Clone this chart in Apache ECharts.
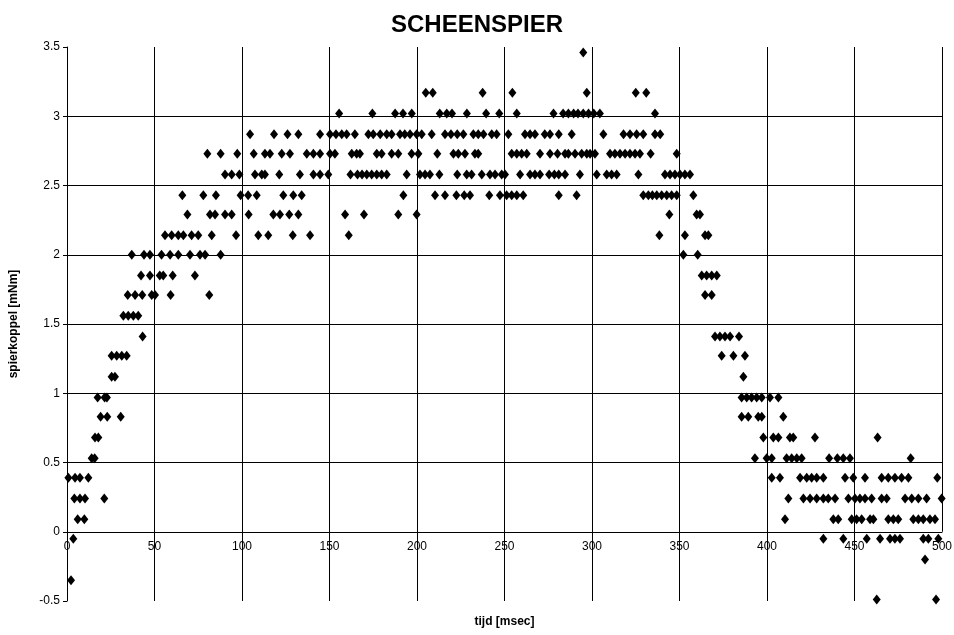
<!DOCTYPE html>
<html>
<head>
<meta charset="utf-8">
<script src="https://cdn.jsdelivr.net/npm/echarts@6/dist/echarts.min.js"></script>
<style>
  html, body { margin: 0; padding: 0; background: #fff; }
  #chart { width: 954px; height: 635px; }
</style>
</head>
<body>
<div id="chart"></div>
<script>
// gemeten spierkoppel per niveau (mNm), met de tijdstippen (msec) waarop het voorkomt
const t346 = [295];
const t317 = [205, 209, 237.5, 254.5, 297, 325, 331];
const t302 = [155.5, 174.5, 187.5, 192, 197, 213, 217, 220, 228.5, 239.5, 247, 257, 278, 283.5, 286.5, 289.5, 292, 295, 298, 301, 304.5, 336];
const t287 = [104.6, 118.3, 126, 132.2, 144.6, 150.3, 153.7, 157, 159.8, 164.5, 172.2, 175, 179, 182.7, 185.5, 190.3, 193, 196, 199.8, 202.7, 208.4, 216, 219.4, 223, 226.5, 232.2, 235, 238, 242.7, 245.5, 252.2, 261.7, 264.6, 267.4, 273, 276, 281, 288.4, 306.5, 318, 321.7, 325.5, 329.3, 336, 339];
const t273 = [80.2, 87.8, 97.3, 106.7, 113.1, 116, 122.7, 127.4, 137, 140.8, 144.6, 150.3, 153.1, 162.7, 165.5, 167.4, 177, 179.8, 185.5, 189.3, 196.9, 200.8, 211.6, 220.8, 223.6, 227.4, 233.1, 235, 254.1, 257, 259.8, 262.7, 270.3, 276, 280.3, 284.6, 286.5, 290.3, 294.1, 297, 298.9, 301.7, 310.3, 313.1, 316, 318.9, 321.7, 324.6, 327.4, 333.5, 348.4];
const t258 = [90.3, 94.1, 98.5, 107.4, 111.3, 113.1, 121.3, 133.1, 140.8, 144.6, 149.3, 162, 166, 168.6, 171.3, 174.1, 177, 179.8, 182.7, 194.1, 201.7, 204.6, 207.4, 212.8, 223, 228.4, 231.2, 237, 241.7, 244.6, 248.4, 250.3, 258.9, 264.6, 267.4, 270.3, 275.5, 278.5, 281, 284.6, 293.1, 302.7, 308.4, 311.2, 314.1, 326.5, 341.7, 344.6, 347.4, 350.3, 353.1, 356];
const t243 = [65.9, 77.9, 85.1, 99.2, 103.5, 108.4, 123.6, 129.3, 134.1, 192.2, 210.3, 216, 222.5, 227, 230.3, 241.3, 247.4, 251.2, 254.1, 257, 260.7, 281, 291.2, 329.3, 332.2, 334.5, 337, 339.8, 342.7, 345.5, 348.4, 357.9];
const t229 = [68.8, 81.7, 84.6, 90.3, 94.1, 103.8, 117.9, 121.7, 127, 132.2, 158.9, 169.7, 189.3, 199.8, 344.2, 359.8, 361.7];
const t214 = [56, 59.8, 63.6, 66.5, 71.2, 75, 82.7, 96.6, 109.3, 115, 129, 138.9, 161, 338.5, 353.1, 364.6, 366.5];
const t200 = [37, 44, 47.4, 54, 58.9, 63.6, 70.3, 76, 78.9, 87.8, 352.2, 360.4];
const t185 = [42.3, 47.4, 53, 55, 60.4, 73.1, 362.7, 365.5, 368.4, 371.3];
const t171 = [34.7, 38.9, 43, 48.4, 50.3, 59.2, 81.3, 364.6, 368.4];
const t156 = [32.2, 35, 37.9, 40.7];
const t141 = [43.2, 370.3, 373.1, 376, 378.9, 384];
const t127 = [25.5, 28.4, 31.3, 34.1, 374.1, 380.8, 387.4];
const t112 = [25.5, 27.4, 386.5];
const t097 = [17.5, 21.5, 22.8, 385.5, 388.4, 391.2, 394.1, 397, 401.7, 406.5];
const t083 = [19.2, 23, 30.7, 385.5, 389.3, 395, 397, 409.3];
const t068 = [16, 17.9, 397.9, 403.6, 406.5, 413.1, 415, 427.4, 463.2];
const t053 = [14.1, 15.8, 393.1, 399.8, 402.7, 411.2, 414.1, 417, 419.8, 435.5, 440.2, 443.6, 447.4, 482.1];
const t039 = [0.8, 4.6, 7.4, 12.2, 402.7, 407.4, 418.9, 422.7, 425.5, 428.4, 432.2, 444.6, 449.3, 456, 465.5, 469.3, 473.1, 476.9, 480.8, 497.3];
const t024 = [4.2, 7.4, 10.3, 21.3, 412.2, 420.8, 424.6, 428.4, 432.2, 435, 438.9, 446.5, 450.3, 453.1, 456, 459.8, 465.5, 468.4, 478.9, 482.7, 486.5, 491.2, 499.8];
const t009 = [6.1, 9.9, 410.3, 437.9, 440.7, 448.4, 451.2, 454.1, 458.9, 460.8, 469.3, 472.2, 475, 483.6, 486.5, 489.3, 493.1, 496];
const tm005 = [3.6, 432.2, 443.6, 457, 464.6, 470.3, 473.1, 476, 489.3, 492.2, 497.9];
const tm020 = [490.3];
const tm035 = [2.3];
const tm049 = [462.7, 496.6];

const niveaus = [3.46, 3.17, 3.02, 2.87, 2.73, 2.58, 2.43, 2.29, 2.14, 2.0, 1.85, 1.71, 1.56, 1.41,
  1.27, 1.12, 0.97, 0.83, 0.68, 0.53, 0.39, 0.24, 0.09, -0.05, -0.2, -0.35, -0.49];
const rijen = [t346, t317, t302, t287, t273, t258, t243, t229, t214, t200, t185, t171, t156, t141,
  t127, t112, t097, t083, t068, t053, t039, t024, t009, tm005, tm020, tm035, tm049];

const xTicks = [0, 50, 100, 150, 200, 250, 300, 350, 400, 450, 500];
const yTicks = [-0.5, 0, 0.5, 1, 1.5, 2, 2.5, 3, 3.5];

const punten = [];
rijen.forEach((rij, i) => {
  rij.forEach((t) => punten.push([t, niveaus[i]]));
});

const chart = echarts.init(document.getElementById("chart"));
const font = "Liberation Sans, Arial, sans-serif";

const option = {
  animation: false,
  backgroundColor: "#fff",
  title: {
    text: "SCHEENSPIER",
    left: "center",
    top: 8,
    textStyle: { fontFamily: font, fontSize: 24, fontWeight: "bold", color: "#000" },
  },
  grid: { left: 67, right: 12, top: 47, bottom: 34, outerBoundsMode: "none" },
  xAxis: {
    type: "value",
    min: xTicks[0],
    max: xTicks[xTicks.length - 1],
    interval: 50,
    name: "tijd [msec]",
    nameLocation: "middle",
    nameGap: 84,
    nameTextStyle: { fontFamily: font, fontSize: 12, fontWeight: "bold", color: "#000" },
    axisLine: { onZero: false, lineStyle: { color: "#000", width: 1 } },
    axisTick: { show: false },
    axisLabel: { fontFamily: font, fontSize: 12, color: "#000", margin: 9 },
    splitLine: {
      show: true,
      showMinLine: false,
      showMaxLine: false,
      lineStyle: { color: "#000", width: 1 },
    },
  },
  yAxis: {
    type: "value",
    min: yTicks[0],
    max: yTicks[yTicks.length - 1],
    interval: 0.5,
    name: "spierkoppel [mNm]",
    nameLocation: "middle",
    nameGap: 47,
    nameTextStyle: { fontFamily: font, fontSize: 12, fontWeight: "bold", color: "#000" },
    axisLine: { show: true, lineStyle: { color: "#000", width: 1 } },
    axisTick: { show: true, length: 4, lineStyle: { color: "#000" } },
    axisLabel: { fontFamily: font, fontSize: 12, color: "#000", margin: 7 },
    splitLine: {
      show: true,
      showMinLine: false,
      showMaxLine: false,
      lineStyle: { color: "#000", width: 1 },
    },
  },
  series: [
    {
      type: "scatter",
      data: punten,
      symbol: "diamond",
      symbolSize: [8, 10],
      itemStyle: { color: "#000", opacity: 1 },
      markLine: {
        silent: true,
        symbol: "none",
        label: { show: false },
        lineStyle: { color: "#000", width: 1, type: "solid" },
        data: [[{ coord: [500, 0] }, { coord: [500, 3.5] }]],
      },
    },
  ],
};

chart.setOption(option);

// x-as op de nullijn leggen: afstand tussen y=0 en y=min via de schaal van de grafiek
const yNul = chart.convertToPixel({ yAxisIndex: 0 }, 0);
const yMin = chart.convertToPixel({ yAxisIndex: 0 }, yTicks[0]);
chart.setOption({ xAxis: { offset: -(yMin - yNul) } });
</script>
</body>
</html>
